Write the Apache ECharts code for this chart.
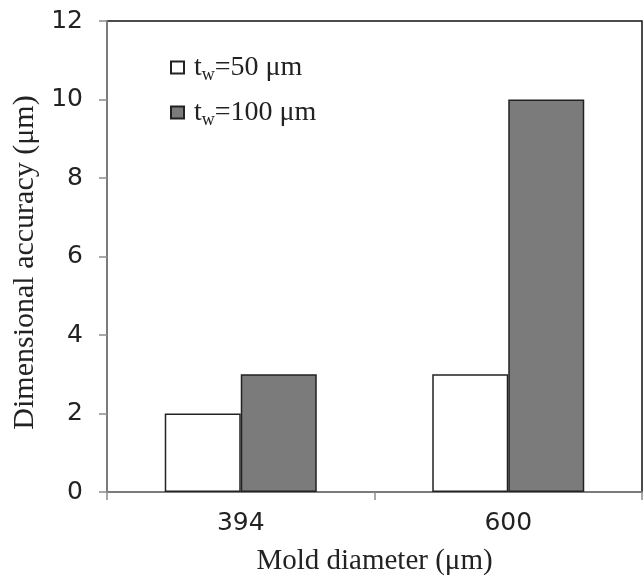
<!DOCTYPE html>
<html>
<head>
<meta charset="utf-8">
<script src="https://cdn.jsdelivr.net/npm/echarts@6/dist/echarts.min.js"></script>
<style>
  html, body { margin: 0; padding: 0; background: #fff; }
  #chart { width: 643px; height: 582px; }
</style>
</head>
<body>
<div id="chart"></div>
<script>
const categories = ['394', '600'];
const wallWidths = ['50', '100'];
const tw50 = [2, 3];
const tw100 = [3, 10];
const yTicks = [0, 2, 4, 6, 8, 10, 12];

const chart = echarts.init(document.getElementById('chart'));

const axisGray = '#8c8c8c';
const dark = '#222';

const option = {
  animation: false,
  grid: {
    left: 107,
    right: 1,
    top: 21,
    bottom: 90,
    show: true,
    borderColor: '#111',
    borderWidth: 1.5,
  },
  legend: {
    orient: 'vertical',
    left: 170,
    top: 51,
    padding: 0,
    itemWidth: 13,
    itemHeight: 12,
    itemGap: 12,
    icon: 'rect',
    data: wallWidths.map((w) => 'tw=' + w),
    formatter: (name) => '{a|t}{b|w}{a|=' + name.split('=')[1] + ' μm}',
    textStyle: {
      padding: [0, 0, 0, 5],
      rich: {
        a: { fontFamily: 'Liberation Serif', fontSize: 28, lineHeight: 24, color: dark },
        b: { fontFamily: 'Liberation Serif', fontSize: 18, lineHeight: 10, padding: [15, 0, 0, 0], color: dark },
      },
    },
  },
  xAxis: {
    type: 'category',
    data: categories,
    name: 'Mold diameter (μm)',
    nameLocation: 'middle',
    nameGap: 55,
    nameTextStyle: { fontFamily: 'Liberation Serif', fontSize: 29, color: dark },
    axisLine: { lineStyle: { color: axisGray, width: 1.5 } },
    axisTick: { show: true, length: 8, lineStyle: { color: axisGray, width: 1.5 } },
    axisLabel: { margin: 19, fontFamily: 'DejaVu Sans', fontSize: 25, color: dark },
  },
  yAxis: {
    type: 'value',
    min: yTicks[0],
    max: yTicks[yTicks.length - 1],
    interval: 2,
    name: 'Dimensional accuracy (μm)',
    nameLocation: 'middle',
    nameGap: 58,
    nameTextStyle: { fontFamily: 'Liberation Serif', fontSize: 30, color: dark, padding: [0, 12, 0, 0] },
    axisLine: { show: true, lineStyle: { color: axisGray, width: 1.5 } },
    axisTick: { show: true, length: 8, lineStyle: { color: axisGray, width: 1.5 } },
    axisLabel: { margin: 24, fontFamily: 'DejaVu Sans', fontSize: 25, color: dark },
    splitLine: { show: false },
  },
  series: [
    {
      name: 'tw=' + wallWidths[0],
      type: 'bar',
      data: tw50,
      barWidth: 76,
      barGap: '0%',
      itemStyle: { color: '#ffffff', borderColor: dark, borderWidth: 1.5 },
    },
    {
      name: 'tw=' + wallWidths[1],
      type: 'bar',
      data: tw100,
      barWidth: 76,
      barGap: '0%',
      itemStyle: { color: '#7b7b7b', borderColor: dark, borderWidth: 1.5 },
    },
  ],
};

chart.setOption(option);
</script>
</body>
</html>
